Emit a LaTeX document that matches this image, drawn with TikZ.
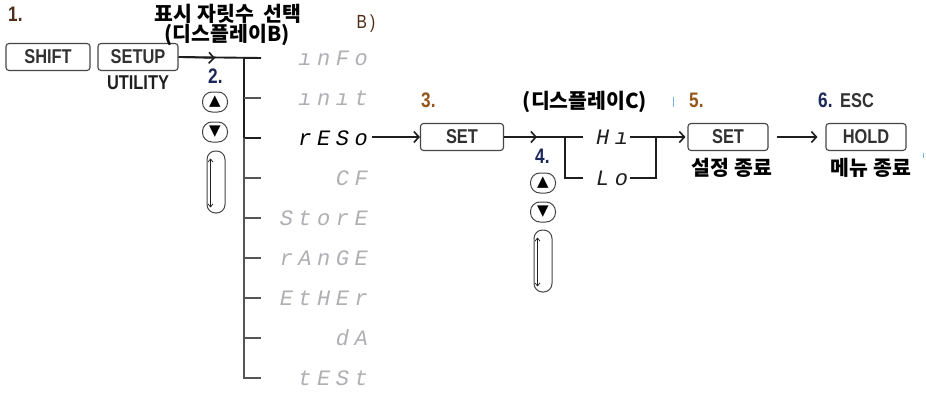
\documentclass[tikz,border=0pt]{standalone}
\usepackage{fontspec}
\setmainfont{Liberation Sans}
\newfontfamily\keyfont[FakeStretch=0.82]{Liberation Sans}
\newfontfamily\segfont[LetterSpace=25]{Liberation Mono}
\newfontfamily\kofont{Noto Sans CJK KR}
\newfontfamily\symfont{DejaVu Sans}
\usetikzlibrary{arrows.meta,positioning,calc}
\definecolor{Ink}{RGB}{30,30,30}
\definecolor{KeyEdge}{RGB}{70,70,70}
\definecolor{KeyText}{RGB}{50,50,50}
\definecolor{SegGray}{RGB}{175,175,180}
\definecolor{LineGray}{RGB}{85,85,85}
\definecolor{NumNavy}{RGB}{28,40,90}
\definecolor{NumAmber}{RGB}{150,85,25}
\definecolor{NumBrown}{RGB}{80,45,25}
\definecolor{Flare}{RGB}{120,180,230}
\tikzset{
  flow/.style={-{Straight Barb[length=5pt,width=11pt]},line width=1.6pt,draw=Ink},
  wire/.style={line width=1.9pt,draw=Ink},
  stem/.style={line width=1.3pt,draw=LineGray},
  key/.style={draw=KeyEdge,line width=1.1pt,rounded corners=3pt,minimum width=80pt,minimum height=27pt,inner sep=0pt,text=KeyText,font=\keyfont\bfseries\fontsize{20}{20}\selectfont},
  num/.style={anchor=base west,inner sep=0pt,font=\keyfont\bfseries\fontsize{21}{21}\selectfont},
  keylabel/.style={inner sep=0pt,text=Ink,font=\keyfont\bfseries\fontsize{20}{20}\selectfont},
  ko/.style={inner sep=0pt,text=black,font=\kofont\bfseries\fontsize{20.5}{22}\selectfont},
  seg/.style={anchor=base east,inner sep=0pt,text=SegGray,font=\segfont\itshape\fontsize{22}{22}\selectfont},
  btn/.style={draw=KeyEdge,line width=1pt,rounded corners=9.5pt,minimum width=25pt,minimum height=20pt,inner sep=0pt,font=\symfont\fontsize{15}{15}\selectfont},
  scroll/.style={draw=KeyEdge,line width=1pt,rounded corners=8.5pt,minimum width=18pt,minimum height=62pt,inner sep=0pt},
  twoway/.style={{Straight Barb[length=3pt,width=5pt]}-{Straight Barb[length=3pt,width=5pt]},line width=0.7pt,draw=Ink}
}
\begin{document}
\begin{tikzpicture}[x=1pt,y=-1pt]
  \useasboundingbox[fill=white] (0,0) rectangle (926,396);
  % step 1
  \node[num,text=NumBrown] (n1) at (8,22) {1.};
  \node[key,minimum width=84pt] (shift) at (48,57) {SHIFT};
  \node[key] (setup) at (138,57) {SETUP};
  \node[keylabel] (utility) at (138,83) {UTILITY};
  \node[ko] (ttl) at (228,14) {표시 자릿수~~선택};
  \node[ko] (dispb) at (227,35) {(디스플레이B)};
  \node[keylabel,font=\keyfont\fontsize{19}{19}\selectfont,text=NumBrown] (tailb) at (366,24) {B\,)};
  % menu tree
  \coordinate (root) at (244,58);
  \draw[wire] (setup.east) -- (261,58);
  \draw[flow] (setup.east) -- (215,58);
  \draw[wire] (root) -- (244,138) -- (261,138);
  \draw[stem] (244,138) -- (244,378) -- (261,378);
  \foreach \y in {98,178,218,258,298,338} \draw[stem] (244,\y) -- (261,\y);
  \foreach \lab/\col [count=\i from 0] in {ınFo/SegGray,ınıt/SegGray,rESo/black,CF/SegGray,StorE/SegGray,rAnGE/SegGray,EtHEr/SegGray,dA/SegGray,tESt/SegGray}
    \node[seg,text=\col] (item\i) at (368,58+40*\i+7.5) {\lab};
  % step 2
  \node[num,text=NumNavy] (n2) at (208,84) {2.};
  \node[btn] (up1) at (215,102) {▲};
  \node[btn] (dn1) at (215,132) {▼};
  \node[scroll] (roll1) at (216,182) {};
  \draw[twoway] ([xshift=4pt,yshift=-8pt]roll1.north west) -- ([xshift=4pt,yshift=6pt]roll1.south west);
  % step 3
  \node[num,text=NumAmber] (n3) at (421,107) {3.};
  \node[key,minimum width=83pt] (set1) at (462,137) {SET};
  \draw[flow,shorten <=4pt] (item2.east |- set1.west) -- (set1.west);
  \coordinate (fork) at (565,137);
  \coordinate (lotick) at (583,178);
  \draw[wire] (set1.east) -- (583,137);
  \draw[flow] (set1.east) -- (537,137);
  \draw[wire] (fork) |- (lotick);
  \node[seg,text=Ink,anchor=base west] (hi) at (596,144.5) {Hı};
  \node[seg,text=Ink,anchor=base west] (lo) at (596,185.5) {Lo};
  \node[ko] (dispc) at (585,102) {(디스플레이C)};
  % step 4
  \node[num,text=NumNavy] (n4) at (535,163) {4.};
  \node[btn] (up2) at (543,183) {▲};
  \node[btn] (dn2) at (543,212) {▼};
  \node[scroll] (roll2) at (543,261) {};
  \draw[twoway] ([xshift=4pt,yshift=-8pt]roll2.north west) -- ([xshift=4pt,yshift=6pt]roll2.south west);
  % step 5
  \node[key] (set2) at (728,137) {SET};
  \coordinate (join) at (656,137);
  \draw[flow,shorten <=2pt,shorten >=2pt] (hi.east |- set2.west) -- (set2.west);
  \draw[wire] ([xshift=2pt]lo.east |- lotick) -| (join);
  \node[num,text=NumAmber] (n5) at (689,107) {5.};
  \node[ko] (done1) at (732,168) {설정 종료};
  % step 6
  \node[key] (hold) at (866,137) {HOLD};
  \draw[flow,shorten <=8pt,shorten >=8pt] (set2) -- (hold);
  \node[num,text=NumNavy] (n6) at (818,107) {6.};
  \node[keylabel,anchor=base west,text=KeyText] (esc) at (840,107) {ESC};
  \node[ko] (done2) at (871,168) {메뉴 종료};
  % flare marks
  \draw[Flare,line width=1pt] (673,97) -- (673,107);
  \draw[Flare,line width=1pt] (923,153) -- (923,158);
\end{tikzpicture}
\end{document}
